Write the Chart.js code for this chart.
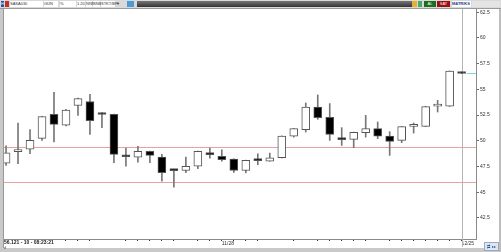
<!DOCTYPE html>
<html>
<head>
<meta charset="utf-8">
<script src="https://cdn.jsdelivr.net/npm/chart.js@4.4.1/dist/chart.umd.min.js"></script>
<style>
  body { margin: 0; width: 501px; height: 252px; overflow: hidden; background: #c9c9c9; font-family: "Liberation Sans", Arial, sans-serif; }
  #wrap { position: relative; width: 501px; height: 252px; }
  #bar { position: absolute; left: 0; top: 0; width: 501px; height: 8px; background: #d9d9d9; border-bottom: 1px solid #9a9a9a; }
  #bar div { position: absolute; top: 1px; height: 6px; font-size: 4px; line-height: 6px; color: #333; }
  .fld { background: #fff; border: 0 solid #aaa; }
  #dark { left: 137px; width: 275px; background: linear-gradient(#777, #333); }
  #plot { position: absolute; left: 3px; top: 9px; width: 496px; height: 239px; background: #fff; border-left: 1px solid #999; }
  #frameR { position: absolute; left: 499px; top: 9px; width: 2px; height: 243px; background: #bdbdbd; }
  #stat { position: absolute; left: 4px; top: 239px; font-size: 5px; font-weight: bold; color: #222; }
  #stat2 { position: absolute; left: 4px; top: 245px; font-size: 4px; color: #555; }
  #icon { position: absolute; left: 484px; top: 242px; width: 13px; height: 7px; background: #dfe6f2; border: 1px solid #9ab; font-size: 4px; color: #2255aa; line-height: 7px; text-align: center; }
</style>
</head>
<body>
<div id="wrap">
  <div id="bar">
    <div style="left:1px;width:3px;background:#2d4fa0;color:#fff;">H</div>
    <div style="left:5px;width:4px;background:#c0302a;"></div>
    <div class="fld" style="left:10px;width:33px;">SASA030</div>
    <div class="fld" style="left:44px;width:14px;">GÜN</div>
    <div class="fld" style="left:60px;width:16px;">%</div>
    <div class="fld" style="left:77px;width:8px;">1.20</div>
    <div class="fld" style="left:86px;width:6px;">NNN</div>
    <div class="fld" style="left:93px;width:7px;">BNB</div>
    <div class="fld" style="left:101px;width:14px;">STKT/BP</div>
    <div style="left:116px;width:8px;">▼</div>
    <div style="left:127px;width:7px;background:#4a9ad8;"></div>
    <div id="dark"></div>
    <div style="left:412px;width:5px;background:#e8b030;"></div>
    <div style="left:418px;width:4px;background:#4aa860;"></div>
    <div style="left:424px;width:12px;background:#1c6e1c;color:#fff;text-align:center;">AL</div>
    <div style="left:437px;width:13px;background:#9a1010;color:#fff;text-align:center;">SAT</div>
    <div class="fld" style="left:452px;width:19px;color:#2a3a8a;font-weight:bold;">MATRIKS</div>
    <div style="left:472px;width:28px;background:#e4e4e4;color:#aaa;"></div>
  </div>
  <div id="plot"><canvas id="c" width="496" height="239"></canvas></div>
  <div id="frameR"></div>
  <div id="stat">56.121 - 10 - 08:23:21</div>
  <div id="stat2">d</div>
  <div id="icon">⇄ ▸▸</div>
</div>
<script>
// daily candles
const opens  = [47.83, 48.95, 49.19, 50.24, 52.58, 51.51, 53.43, 53.82, 52.60, 52.58,
                48.61, 48.41, 48.97, 48.41, 47.12, 47.11, 47.53, 48.80, 48.48, 48.22,
                47.11, 48.10, 48.02, 48.35, 50.46, 51.09, 53.29, 52.29, 50.30, 50.14,
                50.79, 51.18, 50.46, 50.04, 51.40, 51.41, 53.38, 53.36, 56.68];
const highs  = [49.50, 51.73, 51.09, 52.38, 54.72, 53.05, 54.15, 54.53, 52.74, 52.60,
                49.29, 49.46, 49.00, 48.68, 47.21, 48.41, 49.00, 49.29, 49.13, 48.25,
                48.12, 48.74, 48.80, 50.48, 51.20, 53.68, 54.46, 53.62, 51.28, 50.85,
                52.48, 51.83, 50.89, 51.40, 51.73, 53.35, 53.94, 56.80, 56.70];
const lows   = [47.60, 47.77, 48.74, 50.04, 49.88, 51.45, 52.48, 50.63, 51.28, 47.87,
                47.53, 47.92, 47.87, 46.07, 45.49, 46.89, 47.28, 48.31, 48.02, 46.92,
                46.89, 47.67, 48.00, 48.33, 50.36, 50.85, 52.09, 50.04, 49.55, 49.33,
                50.36, 50.21, 48.58, 49.82, 50.75, 51.39, 52.80, 53.34, 56.53];
const closes = [48.84, 48.99, 50.04, 52.35, 51.60, 53.00, 54.11, 51.96, 52.56, 48.68,
                48.45, 48.97, 48.58, 46.89, 47.10, 47.53, 48.97, 48.65, 48.16, 47.11,
                48.09, 48.08, 48.35, 50.46, 51.18, 53.29, 52.26, 50.63, 50.11, 50.82,
                51.18, 50.46, 49.94, 51.38, 51.42, 53.33, 53.40, 56.77, 56.55];

const yTicks = [62.5, 60, 57.5, 55, 52.5, 50, 47.5, 45, 42.5];
const yTickLabels = ['62.5', '60', '57.5', '55', '52.5', '50', '47.5', '45', '42.5'];
const xTickIdx = [5, 6, 7, 10, 11, 12, 13, 14, 16, 17, 18, 19, 20, 21, 24, 26, 27, 28, 29, 30, 32, 33, 34, 35, 36, 37, 38];
const xTickLabels = { 18: '11/28', 38: '12/25' };
const levels = [49.36, 45.97];
const cursorIdx = 38;

const bodies = opens.map((o, i) => ({ x: i, y: [o, closes[i]] }));
const wicks = lows.map((l, i) => ({ x: i, y: [l, highs[i]] }));
const bodyColors = opens.map((o, i) => closes[i] >= o ? '#ffffff' : '#000000');

const overlay = {
    id: 'overlay',
    beforeDatasetsDraw(chart) {
        const ctx = chart.ctx, a = chart.chartArea, y = chart.scales.y, x = chart.scales.x;
        ctx.save();
        ctx.lineWidth = 1;
        ctx.strokeStyle = '#e8a2a2';
        levels.forEach(v => {
            const py = Math.round(y.getPixelForValue(v)) + 0.5;
            ctx.beginPath(); ctx.moveTo(a.left, py); ctx.lineTo(a.right, py); ctx.stroke();
        });
        // cursor line
        const cx = Math.round(x.getPixelForValue(cursorIdx)) + 0.5;
        ctx.strokeStyle = '#b4b4b4';
        ctx.beginPath(); ctx.moveTo(cx, a.top); ctx.lineTo(cx, chart.height - 1); ctx.stroke();
        // last price line
        const ly = Math.round(y.getPixelForValue(closes[closes.length - 1])) + 0.5;
        ctx.strokeStyle = '#7fd6d6';
        ctx.beginPath(); ctx.moveTo(cx + 4, ly); ctx.lineTo(a.right, ly); ctx.stroke();
        ctx.restore();
    }
};

function noPad(s) {
    s.paddingTop = 0; s.paddingBottom = 0; s.paddingLeft = 0; s.paddingRight = 0;
}

new Chart(document.getElementById('c'), {
    type: 'bar',
    data: {
        datasets: [{
            data: bodies,
            backgroundColor: bodyColors,
            borderColor: '#555',
            borderWidth: 1,
            borderSkipped: false,
            barThickness: 8,
            minBarLength: 2,
            grouped: false,
            order: 0
        }, {
            data: wicks,
            backgroundColor: '#777',
            borderWidth: 0,
            barThickness: 1,
            grouped: false,
            order: 1
        }]
    },
    options: {
        responsive: false,
        animation: false,
        events: [],
        layout: { padding: 0 },
        plugins: { legend: { display: false }, tooltip: { enabled: false } },
        scales: {
            x: {
                type: 'linear',
                position: 'bottom',
                offset: false,
                min: -0.17,
                max: 39.2,
                afterBuildTicks: s => { s.ticks = xTickIdx.map(v => ({ value: v })); },
                afterFit: s => { s.height = 9; noPad(s); },
                grid: { drawOnChartArea: false, offset: false, tickLength: 2, color: '#333' },
                border: { color: '#8a8a8a' },
                ticks: {
                    autoSkip: false,
                    maxRotation: 0,
                    align: 'start',
                    padding: 0,
                    color: '#333',
                    font: { size: 5, family: 'Liberation Sans' },
                    callback: v => xTickLabels[v] || ''
                }
            },
            y: {
                position: 'right',
                min: 40.45,
                max: 62.82,
                afterBuildTicks: s => { s.ticks = yTicks.map(v => ({ value: v })); },
                afterFit: s => { s.width = 24; noPad(s); },
                grid: { drawOnChartArea: false, tickLength: 3, color: '#666' },
                border: { color: '#8a8a8a' },
                ticks: {
                    padding: 1,
                    color: '#333',
                    font: { size: 5, family: 'Liberation Sans' },
                    callback: (v, i) => yTickLabels[i]
                }
            }
        }
    },
    plugins: [overlay]
});
</script>
</body>
</html>
